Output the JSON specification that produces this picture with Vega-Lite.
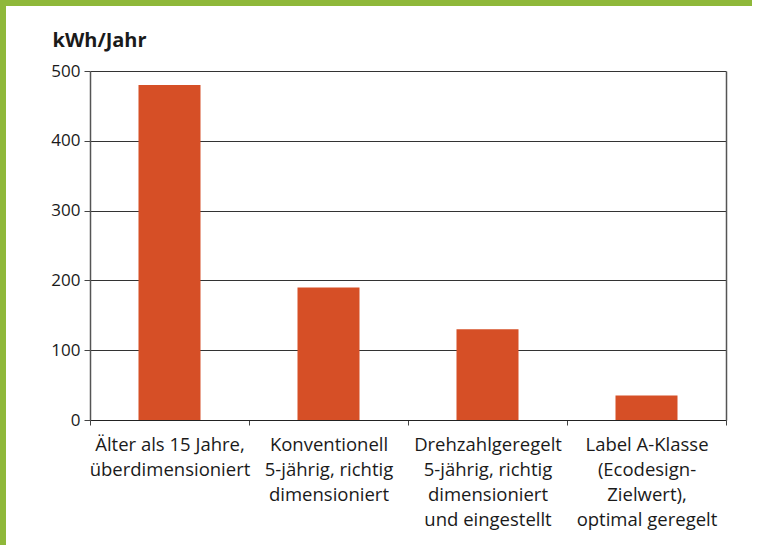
{
  "$schema": "https://vega.github.io/schema/vega-lite/v6.json",
  "width": 746,
  "height": 539,
  "autosize": {"type": "none"},
  "padding": {"left": 6, "top": 6, "right": 0, "bottom": 0},
  "background": "#8FB83A",
  "config": {
    "view": {"fill": "white", "stroke": null},
    "font": "Open Sans",
    "axis": {"labelColor": "#1a1a1a", "titleColor": "#1a1a1a", "labelFont": "Open Sans", "titleFont": "Open Sans"}
  },
  "data": {
    "values": [
      {"kategorie": "Älter als 15 Jahre,\nüberdimensioniert", "kwh": 480},
      {"kategorie": "Konventionell\n5-jährig, richtig\ndimensioniert", "kwh": 190},
      {"kategorie": "Drehzahlgeregelt\n5-jährig, richtig\ndimensioniert\nund eingestellt", "kwh": 130},
      {"kategorie": "Label A-Klasse\n(Ecodesign-\nZielwert),\noptimal geregelt", "kwh": 35}
    ]
  },
  "encoding": {
    "x": {
      "field": "kategorie",
      "type": "nominal",
      "sort": null,
      "scale": {"range": [84, 720], "paddingInner": 0, "paddingOuter": 0},
      "axis": {
        "title": null,
        "orient": "bottom",
        "offset": -125,
        "labelAngle": 0,
        "labelExpr": "split(datum.label, '\\n')",
        "labelFontSize": 18.5,
        "labelLineHeight": 25,
        "labelBaseline": "alphabetic",
        "labelPadding": 25,
        "labelLimit": 400,
        "labelOverlap": false,
        "tickBand": "extent",
        "tickSize": 5,
        "tickColor": "#444",
        "domainColor": "#222",
        "domainWidth": 1,
        "grid": false
      }
    }
  },
  "layer": [
    {
      "mark": {"type": "bar", "color": "#D64F26", "width": {"band": 0.39}},
      "encoding": {
        "y": {
          "field": "kwh",
          "type": "quantitative",
          "scale": {"domain": [0, 500], "range": [414, 65], "nice": false},
          "axis": {
            "orient": "left",
            "offset": -84,
            "values": [0, 100, 200, 300, 400, 500],
            "title": "kWh/Jahr",
            "titleAngle": 0,
            "titleAlign": "left",
            "titleBaseline": "alphabetic",
            "titleX": -38,
            "titleY": 40,
            "titleFontSize": 20,
            "titleFontWeight": "bold",
            "labelFontSize": 17,
            "labelPadding": 4,
            "tickSize": 6,
            "tickColor": "#444",
            "domainColor": "#555",
            "domainWidth": 1.5,
            "grid": true,
            "gridColor": "#333",
            "gridWidth": 1
          }
        }
      }
    },
    {
      "mark": {"type": "bar", "opacity": 0, "width": {"band": 0.39}},
      "encoding": {
        "y": {
          "field": "kwh",
          "type": "quantitative",
          "axis": {
            "orient": "right",
            "offset": -26,
            "title": null,
            "labels": false,
            "ticks": false,
            "grid": false,
            "domainColor": "#555",
            "domainWidth": 1.5
          }
        }
      }
    }
  ],
  "resolve": {"axis": {"y": "independent"}}
}
